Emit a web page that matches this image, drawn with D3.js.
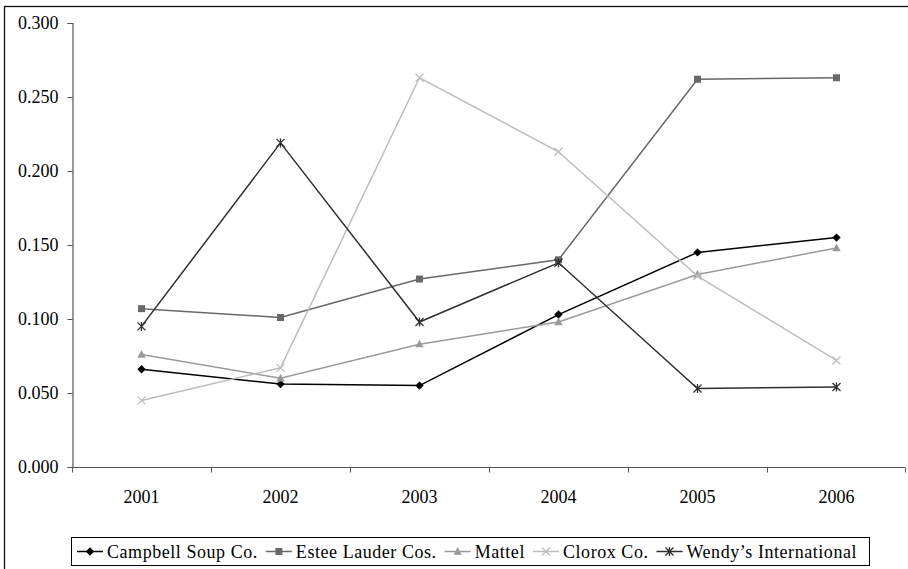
<!DOCTYPE html>
<html>
<head>
<meta charset="utf-8">
<script src="https://cdn.jsdelivr.net/npm/d3@7"></script>
<style>
  html, body { margin: 0; padding: 0; background: #fff; }
  svg { display: block; }
</style>
</head>
<body>
<script>
// Years on the category axis
const years = ["2001", "2002", "2003", "2004", "2005", "2006"];

// One array of yearly values per company
const campbell = [0.066, 0.056, 0.055, 0.103, 0.145, 0.155];
const esteeLauder = [0.107, 0.101, 0.127, 0.140, 0.262, 0.263];
const mattel = [0.076, 0.060, 0.083, 0.098, 0.130, 0.148];
const clorox = [0.045, 0.067, 0.263, 0.213, 0.129, 0.072];
const wendys = [0.095, 0.219, 0.098, 0.138, 0.053, 0.054];

// Value-axis tick labels
const yTicks = [0, 0.05, 0.1, 0.15, 0.2, 0.25, 0.3];

const seriesNames = ["Campbell Soup Co.", "Estee Lauder Cos.", "Mattel", "Clorox Co.", "Wendy\u2019s International"];

const FONT = "'Liberation Serif', 'Times New Roman', Times, serif";
const W = 908, H = 569;
const plot = { left: 72, right: 906, top: 23, bottom: 467 };

const series = [
  { name: seriesNames[0], values: campbell, color: "#000000", marker: "diamond" },
  { name: seriesNames[1], values: esteeLauder, color: "#686868", marker: "square" },
  { name: seriesNames[2], values: mattel, color: "#9a9a9a", marker: "triangle" },
  { name: seriesNames[3], values: clorox, color: "#bdbdbd", marker: "cross" },
  { name: seriesNames[4], values: wendys, color: "#2e2e2e", marker: "star" }
];

const svg = d3.select("body").append("svg")
  .attr("width", W).attr("height", H)
  .style("font-family", FONT);

// Outer chart frame
svg.append("rect")
  .attr("x", 4.5).attr("y", 6.5)
  .attr("width", W + 10).attr("height", H + 10)
  .attr("fill", "none").attr("stroke", "#111").attr("stroke-width", 1.3);

const x = d3.scaleBand().domain(years).range([plot.left, plot.right]);
const y = d3.scaleLinear().domain([0, 0.3]).range([plot.bottom, plot.top]);

// Value axis
const yAxis = d3.axisLeft(y).tickValues(yTicks).tickFormat(d3.format(".3f")).tickSize(5).tickPadding(9);
const gy = svg.append("g").attr("transform", `translate(${plot.left + 0.5},0)`).call(yAxis);
gy.attr("font-family", null).attr("font-size", null);
gy.select(".domain").attr("stroke", "#555").attr("stroke-width", 1.2);
gy.selectAll(".tick line").attr("stroke", "#555");
gy.selectAll(".tick text")
  .style("font-family", FONT).style("font-size", "18px").attr("fill", "#000");

// Category axis: ticks between categories, labels centred on each band
const gx = svg.append("g").attr("transform", `translate(0,${plot.bottom + 0.5})`);
gx.append("line")
  .attr("x1", plot.left).attr("x2", plot.right - 1)
  .attr("stroke", "#555").attr("stroke-width", 1.2);
const boundaries = years.map(d => x(d)).concat([x(years[years.length - 1]) + x.bandwidth()]);
gx.selectAll("line.tk").data(boundaries).join("line")
  .attr("class", "tk")
  .attr("x1", d => Math.min(d, plot.right - 1) + 0.5).attr("x2", d => Math.min(d, plot.right - 1) + 0.5)
  .attr("y1", 0).attr("y2", 5)
  .attr("stroke", "#555");
gx.selectAll("text").data(years).join("text")
  .attr("x", d => x(d) + x.bandwidth() / 2)
  .attr("y", 35)
  .attr("text-anchor", "middle")
  .style("font-family", FONT)
  .style("font-size", "18px")
  .attr("fill", "#000")
  .text(d => d);

const cx = (d, i) => x(years[i]) + x.bandwidth() / 2;

function drawMarker(g, type, color) {
  switch (type) {
    case "diamond":
      g.append("path").attr("d", "M0,-4.2L4.2,0L0,4.2L-4.2,0Z").attr("fill", color);
      break;
    case "square":
      g.append("rect").attr("x", -3.5).attr("y", -3.5).attr("width", 7).attr("height", 7).attr("fill", color);
      break;
    case "triangle":
      g.append("path").attr("d", "M0,-4.5L4.2,3.2L-4.2,3.2Z").attr("fill", color);
      break;
    case "cross":
      g.append("path").attr("d", "M-4,-4L4,4M-4,4L4,-4").attr("stroke", color).attr("stroke-width", 1.3).attr("fill", "none");
      break;
    case "star":
      g.append("path").attr("d", "M-4,-4L4,4M-4,4L4,-4M0,-4.5L0,4.5").attr("stroke", color).attr("stroke-width", 1.3).attr("fill", "none");
      break;
  }
}

const line = d3.line().x((d, i) => cx(d, i)).y(d => y(d));

const gSeries = svg.append("g");
series.forEach(s => {
  gSeries.append("path")
    .datum(s.values)
    .attr("d", line)
    .attr("fill", "none")
    .attr("stroke", s.color)
    .attr("stroke-width", 1.5);
  s.values.forEach((v, i) => {
    const g = gSeries.append("g").attr("transform", `translate(${cx(v, i)},${y(v)})`);
    drawMarker(g, s.marker, s.color);
  });
});

// Legend
const legend = { x: 71, y: 537, h: 28, w: 798 };
const lg = svg.append("g");
lg.append("rect")
  .attr("x", legend.x + 0.5).attr("y", legend.y + 0.5)
  .attr("width", legend.w).attr("height", legend.h)
  .attr("fill", "#fff").attr("stroke", "#000").attr("stroke-width", 1);

let cursor = legend.x + 6;
const midY = legend.y + legend.h / 2 + 0.5;
series.forEach(s => {
  const item = lg.append("g");
  item.append("line")
    .attr("x1", cursor).attr("x2", cursor + 26)
    .attr("y1", midY).attr("y2", midY)
    .attr("stroke", s.color).attr("stroke-width", 1.5);
  drawMarker(item.append("g").attr("transform", `translate(${cursor + 13},${midY})`), s.marker, s.color);
  const t = item.append("text")
    .attr("x", cursor + 30)
    .attr("y", midY + 6)
    .style("font-family", FONT)
    .style("font-size", "18px")
    .style("letter-spacing", "0.55px")
    .attr("fill", "#000")
    .text(s.name);
  cursor += 30 + t.node().getComputedTextLength() + 8;
});
</script>
</body>
</html>
